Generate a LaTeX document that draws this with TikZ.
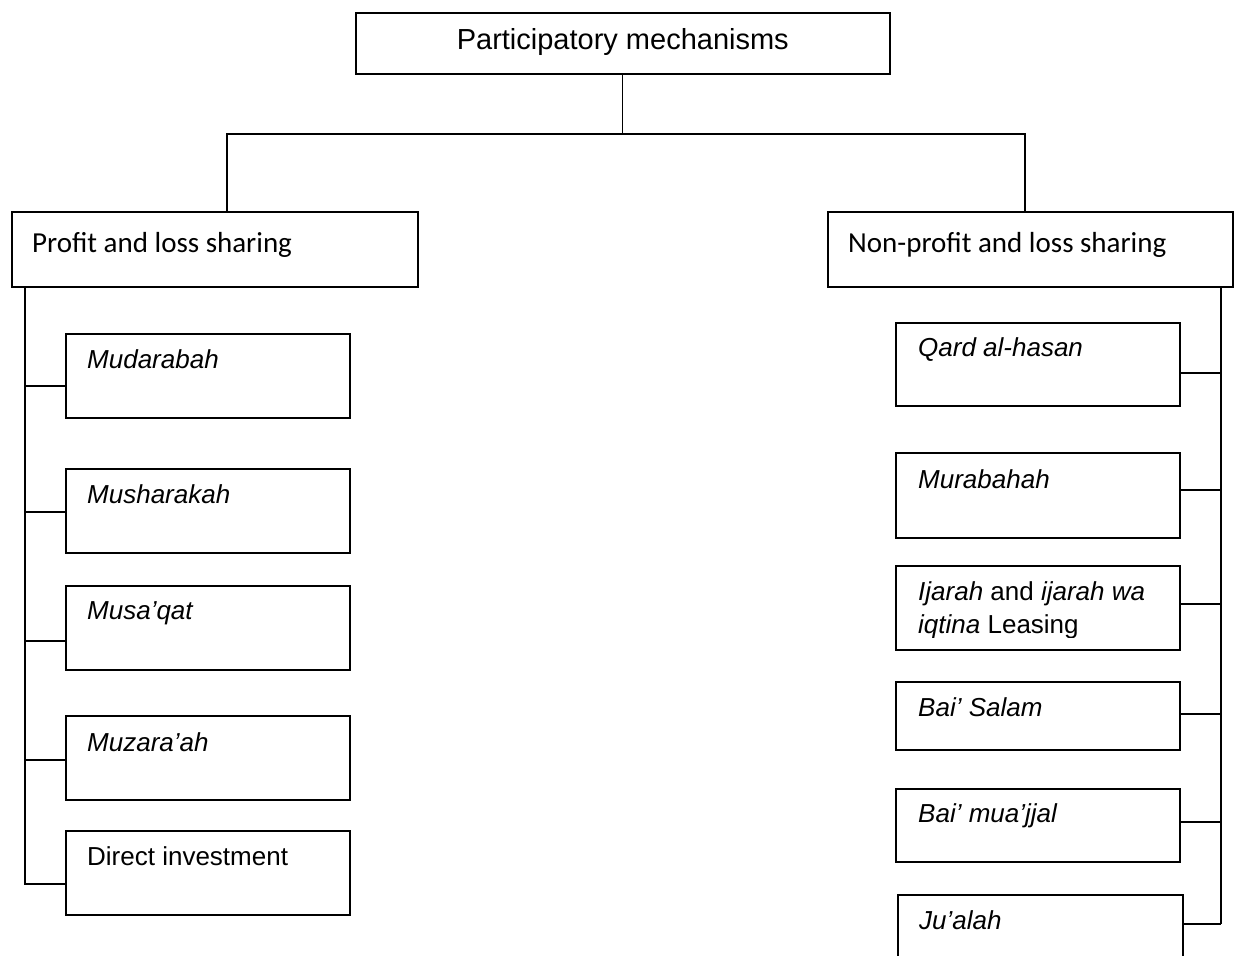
\documentclass[tikz,border=0pt]{standalone}
\usepackage{fontspec}
\setmainfont{Liberation Sans}
\newfontfamily\carlito{Carlito}
\usetikzlibrary{calc}
\begin{document}
\begin{tikzpicture}[x=1pt,y=-1pt,
  frame/.style={draw, line width=1.6pt, rectangle, inner sep=0pt, anchor=north west},
  link/.style={line width=1.6pt},
  thinlink/.style={line width=1.1pt},
  caption/.style={inner sep=0pt, anchor=base west, font=\fontsize{26}{33}\selectfont},
  headtext/.style={inner sep=0pt, anchor=base west, font=\carlito\fontsize{29}{35}\selectfont},
]
\clip (0,0) rectangle (1235,956);
\fill[white] (0,0) rectangle (1235,956);

% root
\node[frame, minimum width=534pt, minimum height=61pt] (top) at (355,12) {};
\node[inner sep=0pt, anchor=base, font=\fontsize{29}{35}\selectfont] (toptext)
  at ($(top.north)+(0,37)$) {Participatory mechanisms};

% two families
\node[frame, minimum width=406pt, minimum height=75pt] (pls) at (11,211) {};
\node[headtext] (plstext) at ($(pls.north west)+(21,41)$) {Profit and loss sharing};
\node[frame, minimum width=405pt, minimum height=75pt] (npls) at (827,211) {};
\node[headtext] (nplstext) at ($(npls.north west)+(21,41)$) {Non-profit and loss sharing};

% profit and loss sharing contracts
\node[frame, minimum width=284pt, minimum height=84pt] (mud)  at (65,333) {};
\node[frame, minimum width=284pt, minimum height=84pt] (mush) at (65,468) {};
\node[frame, minimum width=284pt, minimum height=84pt] (musq) at (65,585) {};
\node[frame, minimum width=284pt, minimum height=84pt] (muz)  at (65,715) {};
\node[frame, minimum width=284pt, minimum height=84pt] (dir)  at (65,830) {};
\node[caption] (mudtext)  at ($(mud.north west)+(22,35)$)  {\itshape Mudarabah};
\node[caption] (mushtext) at ($(mush.north west)+(22,35)$) {\itshape Musharakah};
\node[caption] (musqtext) at ($(musq.north west)+(22,34)$) {\itshape Musa’qat};
\node[caption] (muztext)  at ($(muz.north west)+(22,36)$)  {\itshape Muzara’ah};
\node[caption] (dirtext)  at ($(dir.north west)+(22,35)$)  {Direct investment};

% non-profit and loss sharing contracts
\node[frame, minimum width=284pt, minimum height=83pt] (qard)  at (895,322) {};
\node[frame, minimum width=284pt, minimum height=85pt] (mura)  at (895,452) {};
\node[frame, minimum width=284pt, minimum height=84pt] (ijar)  at (895,565) {};
\node[frame, minimum width=284pt, minimum height=68pt] (salam) at (895,681) {};
\node[frame, minimum width=284pt, minimum height=73pt] (muaj)  at (895,788) {};
\node[frame, minimum width=285pt, minimum height=90pt] (jual)  at (897,894) {};
\node[caption] (qardtext)  at ($(qard.north west)+(23,34)$)  {\itshape Qard al-hasan};
\node[caption] (muratext)  at ($(mura.north west)+(23,36)$)  {\itshape Murabahah};
\begin{scope}
  \clip (ijar.north west) rectangle ($(ijar.north east)+(0,72)$);
  \node[caption] (ijartexta) at ($(ijar.north west)+(23,35)$) {\textit{Ijarah} and \textit{ijarah wa}};
  \node[caption] (ijartextb) at ($(ijar.north west)+(23,68)$) {\textit{iqtina} Leasing};
\end{scope}
\node[caption] (salamtext) at ($(salam.north west)+(23,35)$) {\itshape Bai’ Salam};
\node[caption] (muajtext)  at ($(muaj.north west)+(23,34)$)  {\itshape Bai’ mua’jjal};
\node[caption] (jualtext)  at ($(jual.north west)+(22,35)$)  {\itshape Ju’alah};

% bus between root and families
\coordinate (lbus) at (227,134);
\coordinate (rbus) at (1025,134);
\draw[thinlink] (top.south) -- (top.south |- lbus);
\draw[link] (lbus |- pls.north) -- (lbus) -- (rbus) -- (rbus |- npls.north);

% left trunk and its ticks
\coordinate (ltrunk) at (25,885);
\draw[link] (ltrunk |- pls.south) -- (ltrunk);
\foreach \n/\d in {mud/53, mush/44, musq/56, muz/45, dir/54} {
  \coordinate (\n tick) at ($(\n.north west)+(0,\d)$);
  \draw[link] (ltrunk |- \n tick) -- (\n tick);
}

% right trunk and its ticks
\coordinate (rtrunk) at (1221,924);
\draw[link] (rtrunk |- npls.south) -- (rtrunk);
\foreach \n/\d in {qard/51, mura/38, ijar/39, salam/33, muaj/34, jual/30} {
  \coordinate (\n tick) at ($(\n.north east)+(0,\d)$);
  \draw[link] (\n tick) -- (rtrunk |- \n tick);
}
\end{tikzpicture}
\end{document}
